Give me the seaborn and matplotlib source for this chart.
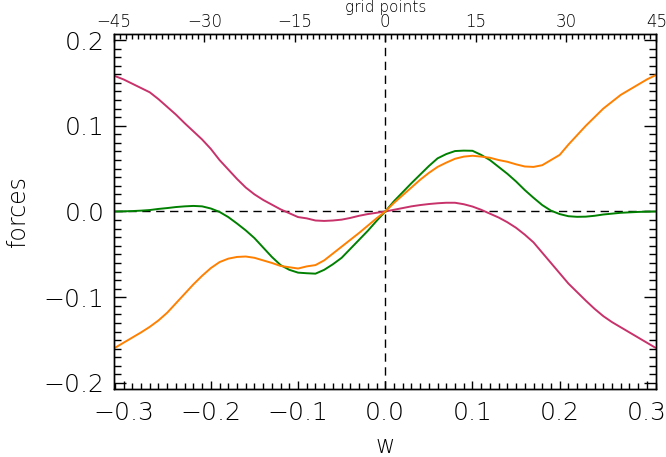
import numpy as np
import pandas as pd
import matplotlib
matplotlib.use("Agg")
import matplotlib.pyplot as plt
from matplotlib.ticker import MultipleLocator
import seaborn as sns

# w positions (bottom axis)
w = [-0.31, -0.30, -0.29, -0.28, -0.27, -0.26, -0.25, -0.24, -0.23, -0.22, -0.21,
     -0.20, -0.19, -0.18, -0.17, -0.16, -0.15, -0.14, -0.13, -0.12, -0.11,
     -0.10, -0.09, -0.08, -0.07, -0.06, -0.05, -0.04, -0.03, -0.02, -0.01,
     0.0, 0.01, 0.02, 0.03, 0.04, 0.05, 0.06, 0.07, 0.08, 0.09, 0.10,
     0.11, 0.12, 0.13, 0.14, 0.15, 0.16, 0.17, 0.18, 0.19, 0.20,
     0.21, 0.22, 0.23, 0.24, 0.25, 0.26, 0.27, 0.28, 0.29, 0.30, 0.31]

magenta = [0.158, 0.154, 0.149, 0.144, 0.139, 0.131, 0.122, 0.113, 0.103, 0.0935, 0.084,
           0.073, 0.060, 0.049, 0.038, 0.028, 0.020, 0.0135, 0.008, 0.0025, -0.002,
           -0.0065, -0.008, -0.0105, -0.011, -0.0105, -0.0095, -0.0075, -0.005, -0.003, -0.0015,
           0.0, 0.002, 0.004, 0.006, 0.0075, 0.0087, 0.0096, 0.0102, 0.0102, 0.0085, 0.0058,
           0.002, -0.0025, -0.007, -0.0125, -0.019, -0.027, -0.036, -0.048, -0.060, -0.072,
           -0.084, -0.094, -0.104, -0.1135, -0.122, -0.129, -0.135, -0.141, -0.147, -0.153, -0.159]

orange = [-0.159, -0.153, -0.147, -0.141, -0.1345, -0.127, -0.118, -0.107, -0.096, -0.085, -0.075,
          -0.066, -0.059, -0.055, -0.053, -0.0525, -0.054, -0.057, -0.060, -0.0635, -0.065,
          -0.0665, -0.064, -0.0625, -0.057, -0.049, -0.041, -0.033, -0.025, -0.0165, -0.008,
          0.0, 0.010, 0.019, 0.028, 0.037, 0.045, 0.052, 0.057, 0.0615, 0.064, 0.065,
          0.064, 0.0627, 0.060, 0.058, 0.055, 0.0525, 0.052, 0.054, 0.060, 0.066,
          0.078, 0.089, 0.100, 0.110, 0.120, 0.128, 0.136, 0.142, 0.148, 0.154, 0.159]

green = [0.0, 0.0002, 0.0005, 0.001, 0.0017, 0.003, 0.004, 0.0052, 0.006, 0.0065, 0.006,
         0.0035, -0.0005, -0.0065, -0.014, -0.022, -0.031, -0.042, -0.053, -0.0625, -0.068,
         -0.0713, -0.072, -0.0725, -0.068, -0.0615, -0.054, -0.0435, -0.033, -0.0225, -0.011,
         0.0, 0.012, 0.0225, 0.033, 0.043, 0.053, 0.062, 0.067, 0.0705, 0.071, 0.0708,
         0.066, 0.060, 0.052, 0.044, 0.035, 0.025, 0.016, 0.0075, 0.001, -0.003,
         -0.0055, -0.0062, -0.006, -0.005, -0.0035, -0.0025, -0.0015, -0.001, -0.0005, -0.0002, 0.0]

grid_ticks = [-45, -30, -15, 0, 15, 30, 45]
w_ticks = [-0.3, -0.2, -0.1, 0.0, 0.1, 0.2, 0.3]
f_ticks = [-0.2, -0.1, 0.0, 0.1, 0.2]

w_max = 0.311   # w at the edge, equals 45 grid points

sns.set_style("ticks")
plt.rcParams["font.family"] = ["DejaVu Sans"]
plt.rcParams["font.weight"] = "light"
plt.rcParams["text.color"] = "black"
plt.rcParams["axes.labelcolor"] = "black"
plt.rcParams["xtick.color"] = "black"
plt.rcParams["ytick.color"] = "black"

df = pd.DataFrame({"w": w, "magenta": magenta, "orange": orange, "green": green})

fig, ax = plt.subplots(figsize=(6.66, 4.57), dpi=100)
fig.subplots_adjust(left=0.1712, right=0.9857, top=0.9256, bottom=0.1488)

ax.axhline(0, color="black", lw=1, ls=(0, (6, 4)))
ax.axvline(0, color="black", lw=1, ls=(0, (6, 4)))

sns.lineplot(data=df, x="w", y="magenta", color="#c8326a", lw=1.4, ax=ax)
sns.lineplot(data=df, x="w", y="green", color="#008000", lw=1.4, ax=ax)
sns.lineplot(data=df, x="w", y="orange", color="#ff8000", lw=1.4, ax=ax)

ax.set_xlim(-w_max, w_max)
ax.set_ylim(-0.207, 0.207)
ax.set_xticks(w_ticks)
ax.set_xticklabels([f"{t:.1f}".replace("-", "\u2212") for t in w_ticks])
ax.xaxis.set_minor_locator(MultipleLocator(0.01))
ax.set_yticks(f_ticks)
ax.set_yticklabels([f"{t:.1f}".replace("-", "\u2212") for t in f_ticks])
ax.yaxis.set_minor_locator(MultipleLocator(0.01))

ax.set_xlabel("w", fontsize=17, labelpad=6, fontweight="light")
ax.set_ylabel("forces", fontsize=17, labelpad=10, fontweight="light")

ax.tick_params(axis="x", which="major", direction="in", length=6, width=1,
               labelsize=18, pad=9, top=False)
ax.tick_params(axis="x", which="minor", direction="in", length=4, width=1, top=False)
ax.tick_params(axis="y", which="major", direction="in", length=8.5, width=1,
               labelsize=18, pad=7, right=True)
ax.tick_params(axis="y", which="minor", direction="in", length=5, width=1, right=True)

for s in ax.spines.values():
    s.set_visible(True)
    s.set_linewidth(1.0)
    s.set_color("black")

# top axis in grid points
top = ax.twiny()
top.set_xlim(grid_ticks[0], grid_ticks[-1])
top.set_xticks(grid_ticks)
top.set_xticklabels([str(g).replace("-", "\u2212") for g in grid_ticks])
top.xaxis.set_minor_locator(MultipleLocator(1))
top.tick_params(axis="x", which="major", direction="in", length=6, width=1,
                labelsize=12, pad=2, top=True, bottom=False)
top.tick_params(axis="x", which="minor", direction="in", length=3.5, width=1,
                top=True, bottom=False)
top.set_xlabel("grid points", fontsize=11, labelpad=1, fontweight="light")
for s in top.spines.values():
    s.set_linewidth(1.0)
    s.set_color("black")

fig.savefig("out.png", dpi=100)
